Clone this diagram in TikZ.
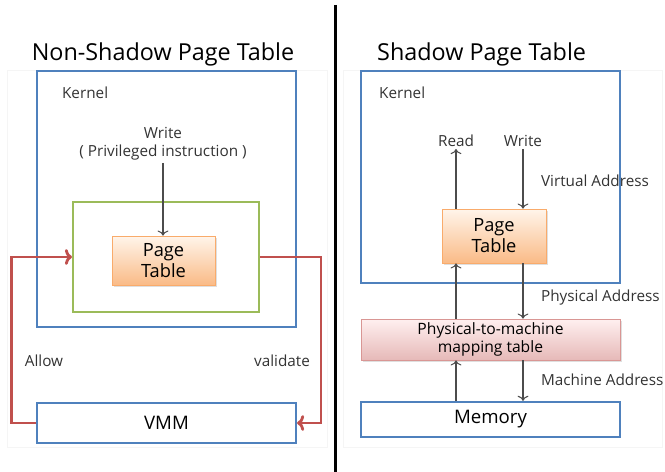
\documentclass[tikz,border=0pt]{standalone}
\usepackage{fontspec}
\setmainfont{Open Sans}
\usepackage{tikz}
\usetikzlibrary{positioning,shadows,calc,arrows.meta}
\definecolor{kblue}{RGB}{79,129,189}
\definecolor{kgreen}{RGB}{155,187,89}
\definecolor{kred}{RGB}{192,80,77}
\definecolor{korange}{RGB}{247,150,70}
\definecolor{kpink}{RGB}{217,150,148}
\tikzstyle{blk}=[draw=kblue, line width=1.3pt, minimum width=5.18cm]
\tikzstyle{guard}=[draw=kgreen, line width=1.2pt, minimum width=3.72cm, minimum height=2.2cm]
\tikzstyle{ptab}=[draw=korange!80, top color=orange!8, bottom color=korange!65, align=center, font=\fontsize{10.4}{12}\selectfont, inner sep=0pt, drop shadow={shadow xshift=1pt, shadow yshift=-1pt, opacity=0.25}]
\tikzstyle{pmap}=[draw=kpink, top color=red!6, bottom color=kred!40, align=center, font=\fontsize{8.9}{10}\selectfont, inner sep=0pt, minimum width=5.18cm, minimum height=0.82cm, drop shadow={shadow xshift=1pt, shadow yshift=-1pt, opacity=0.25}]
\tikzstyle{lbl}=[font=\fontsize{8.7}{10.5}\selectfont, text=black!80, inner sep=1pt]
\tikzstyle{ttl}=[font=\fontsize{13.3}{16}\selectfont]
\tikzstyle{val}=[-{To[length=4pt,width=9pt]}, kred, line width=1.6pt]
\tikzstyle{ad}=[->, black!70, line width=0.6pt]

\begin{document}
\begin{tikzpicture}[x=0.02cm, y=-0.02cm]
\useasboundingbox (0,0) rectangle (665,472);

% faint panel frames
\draw[black!4] (7,70) rectangle (327,447);
\draw[black!4] (343,70) rectangle (662,447);
% divider
\draw[line width=1.7pt] (335,5) -- (335,472);

%%% left: non-shadow page table
\node[ttl] at (163,54) (title1) {Non-Shadow Page Table};
\node[blk, minimum height=5.12cm] at (166.5,199) (kern1) {};
\node[lbl, anchor=west] at (60,93) (klab1) {Kernel};
\node[guard] at (166,257) (green) {};
\node[ptab, minimum width=2.06cm, minimum height=0.98cm] at (163.5,260.5) (pt1) {Page\\Table};
\node[lbl, align=center] at (163,144) (wr1) {Write\\( Privileged instruction )};
\draw[ad] (wr1.south) -- (wr1.south |- pt1.north);

\node[blk, minimum height=0.8cm, font=\fontsize{10.6}{12}\selectfont] at (166.5,423) (vmm) {VMM};
\draw[val] (vmm.west) -- ++(-24,0) |- (green.west);
\draw[val] (green.east) -- ++(61,0) |- (vmm.east);
\node[lbl] at (44,361) (allow) {Allow};
\node[lbl] at (282,361) (valid) {validate};

%%% right: shadow page table
\node[ttl, anchor=west] at (371,54) (title2) {Shadow Page Table};
\node[blk, minimum height=4.24cm] at (490.5,177) (kern2) {};
\node[lbl, anchor=west] at (377,93) (klab2) {Kernel};
\node[ptab, minimum width=2.08cm, minimum height=1.08cm] at (494,236) (pt2) {Page\\Table};
\node[pmap] at (490.5,339.5) (p2m) {Physical-to-machine\\mapping table};
\node[blk, minimum height=0.7cm, font=\fontsize{10.6}{12}\selectfont] at (490.5,419.5) (mem) {Memory};

\node[lbl] at (456,141) (rd) {Read};
\node[lbl] at (523,141) (wr2) {Write};
\draw[ad] (rd.south |- pt2.north) -- (rd.south);
\draw[ad] (wr2.south) -- (wr2.south |- pt2.north);
\draw[ad] (rd.south |- p2m.north) -- (rd.south |- pt2.south);
\draw[ad] (wr2.south |- pt2.south) -- (wr2.south |- p2m.north);
\draw[ad] (rd.south |- mem.north) -- (rd.south |- p2m.south);
\draw[ad] (wr2.south |- p2m.south) -- (wr2.south |- mem.north);

\node[lbl, anchor=west] at (539,181) (va) {Virtual Address};
\node[lbl, anchor=west] at (539,298) (pa) {Physical Address};
\node[lbl, anchor=west] at (539,380) (ma) {Machine Address};
\end{tikzpicture}
\end{document}
